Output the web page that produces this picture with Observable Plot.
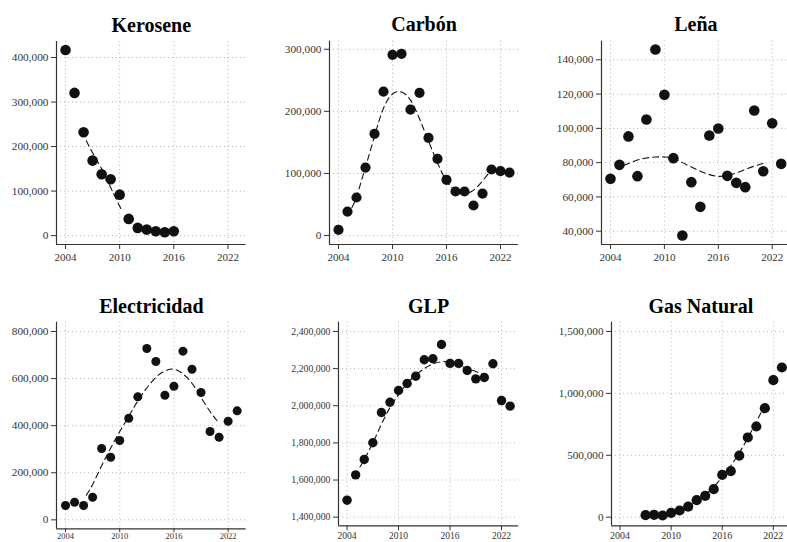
<!DOCTYPE html>
<html><head><meta charset="utf-8">
<script src="https://cdn.jsdelivr.net/npm/d3@7"></script>
<script src="https://cdn.jsdelivr.net/npm/@observablehq/plot@0.6"></script>
<style>
html,body{margin:0;padding:0;background:#fff;overflow:hidden;}
#chart{position:relative;width:787px;height:542px;overflow:hidden;background:#fff;}
#chart svg{position:absolute;}
#chart svg text{font-family:'Liberation Serif','Times New Roman',serif;}
</style></head><body><div id="chart"></div>
<script>
// ---------- data ----------
const xTicks = [2004, 2010, 2016, 2022];

const yearsKerosene = [2004,2005,2006,2007,2008,2009,2010,2011,2012,2013,2014,2015,2016];
const kerosene = [417000,320500,232000,168500,137800,126600,92000,37500,17300,13500,9700,7500,9700];
const keroseneFitYears = [2006.3,2007,2008,2009,2010.15];
const keroseneFit = [213000,186000,150000,108000,60000];
const keroseneTicks = [0,100000,200000,300000,400000];

const yearsAll = [2004,2005,2006,2007,2008,2009,2010,2011,2012,2013,2014,2015,2016,2017,2018,2019,2020,2021,2022,2023];

const carbon = [9200,38600,61200,109500,163800,231900,291000,292600,202900,229800,157300,123500,89700,70900,70900,48300,67600,106300,103600,101400];
const carbonFitYears = [2005.5,2006,2006.5,2007,2008,2009,2010,2011,2012,2013,2014,2015,2016,2017,2018,2019,2020,2021];
const carbonFit = [45000,62000,86000,110000,160000,205000,228000,231000,218000,188000,152000,117000,88000,72000,67000,73000,88000,106000];
const carbonTicks = [0,100000,200000,300000];

const lena = [70600,78700,95300,72100,105200,146000,119600,82600,37500,68600,54200,95800,99900,72300,68200,65700,110400,75000,103000,79300];
const lenaFitYears = [2005.5,2006,2007,2008,2009,2010,2011,2012,2013,2014,2015,2016,2017,2018,2019,2020,2021];
const lenaFit = [78500,79500,81500,82700,83300,83300,82500,80000,77500,75000,73000,72000,72500,74000,76000,78000,79500];
const lenaTicks = [40000,60000,80000,100000,120000,140000];

const electricidad = [60700,74800,60700,96000,302900,266000,337000,431600,522500,727700,672500,529300,567600,716400,639800,540800,375000,351000,418900,463000];
const electricidadFitYears = [2006.3,2007,2008,2009,2010,2011,2012,2013,2014,2015,2016,2017,2018,2019,2020,2020.8];
const electricidadFit = [105000,150000,230000,305000,375000,440000,505000,560000,605000,632000,640000,620000,580000,520000,460000,420000];
const electricidadTicks = [0,200000,400000,600000,800000];

const glp = [1491500,1628000,1711000,1800600,1964000,2019000,2082000,2120000,2159000,2248000,2253000,2330000,2228000,2228000,2190000,2145000,2152000,2226000,2028000,1998000];
const glpFitYears = [2005.5,2006,2007,2008,2009,2010,2011,2012,2013,2014,2015,2016,2017,2018,2019,2020];
const glpFit = [1670000,1710000,1800000,1900000,1990000,2060000,2120000,2165000,2200000,2225000,2237000,2235000,2220000,2200000,2185000,2165000];
const glpTicks = [1400000,1600000,1800000,2000000,2200000,2400000];

const yearsGas = [2007,2008,2009,2010,2011,2012,2013,2014,2015,2016,2017,2018,2019,2020,2021,2022,2023];
const gasNatural = [16000,19000,13700,35500,54000,86000,137000,172600,226000,342000,371600,498000,643800,732600,880500,1106600,1209000];
const gasFitYears = [2008,2009,2010,2011,2012,2013,2014,2015,2016,2017,2018,2019,2020,2020.6];
const gasFit = [15000,20000,35000,55000,85000,130000,180000,245000,325000,415000,520000,640000,770000,850000];
const gasTicks = [0,500000,1000000,1500000];

const titles = ["Kerosene","Carbón","Leña","Electricidad","GLP","Gas Natural"];

const panels = [
  {years: yearsKerosene, values: kerosene, fitYears: keroseneFitYears, fitValues: keroseneFit, yTicks: keroseneTicks},
  {years: yearsAll, values: carbon, fitYears: carbonFitYears, fitValues: carbonFit, yTicks: carbonTicks},
  {years: yearsAll, values: lena, fitYears: lenaFitYears, fitValues: lenaFit, yTicks: lenaTicks},
  {years: yearsAll, values: electricidad, fitYears: electricidadFitYears, fitValues: electricidadFit, yTicks: electricidadTicks},
  {years: yearsAll, values: glp, fitYears: glpFitYears, fitValues: glpFit, yTicks: glpTicks},
  {years: yearsGas, values: gasNatural, fitYears: gasFitYears, fitValues: gasFit, yTicks: gasTicks}
];

// ---------- layout (positions / sizes / styles) ----------
const layout = [
  {left:55.5, right:245,   top:41,    bottom:244,   rowTop:0,   yDomain:[-20000,436000],   r:5.3, yFont:11.3, xFont:11,  xTick:5, xPad:4,   titleDy:-10},
  {left:328.7,right:517.7, top:40.7,  bottom:244,   rowTop:0,   yDomain:[-14500,313000],   r:5.1, yFont:11.3, xFont:11,  xTick:5, xPad:4,   titleDy:-10},
  {left:601,  right:789.7, top:40.7,  bottom:244,   rowTop:0,   yDomain:[32240,150850],    r:5.3, yFont:11.3, xFont:11,  xTick:5, xPad:4,   titleDy:-10},
  {left:55.7, right:245.4, top:321.7, bottom:528.3, rowTop:271, yDomain:[-38000,839500],   r:4.5, yFont:11.3, xFont:8.5, xTick:4, xPad:0.5, titleDy:-9},
  {left:337.7,right:517.9, top:321.7, bottom:525.3, rowTop:271, yDomain:[1353700,2450000], r:4.7, yFont:9.8,  xFont:9.6, xTick:5, xPad:1.2, titleDy:-9},
  {left:610.8,right:789.7, top:321.7, bottom:525.3, rowTop:271, yDomain:[-69500,1575000],  r:5.1, yFont:11.2, xFont:10,  xTick:5, xPad:1,   titleDy:-9}
];

const chart = document.getElementById("chart");
const ML = 75, MB = 30;
const fmt = d3.format(",");
const font = "'Liberation Serif','Times New Roman',serif";

panels.forEach((p, i) => {
  const L = layout[i];
  const mt = L.top - L.rowTop;
  const width = ML + (L.right - L.left);
  const height = mt + (L.bottom - L.top) + MB;
  const pts = p.years.map((y, j) => ({year: y, value: p.values[j]}));
  const fit = p.fitYears.map((y, j) => ({year: y, value: p.fitValues[j]}));
  const svg = Plot.plot({
    width, height,
    marginLeft: ML, marginRight: 0, marginTop: mt, marginBottom: MB,
    x: {domain: [2003, 2024]},
    y: {domain: L.yDomain},
    style: {fontFamily: font, background: "transparent", color: "#333", overflow: "visible"},
    marks: [
      Plot.gridX(xTicks, {stroke: "#b5b5b5", strokeOpacity: 1, strokeDasharray: "1,3"}),
      Plot.gridY(p.yTicks, {stroke: "#b5b5b5", strokeOpacity: 1, strokeDasharray: "1,3"}),
      Plot.ruleX([2003], {stroke: "#333", strokeWidth: 1.2}),
      Plot.ruleY([L.yDomain[0]], {stroke: "#333", strokeWidth: 1.2}),
      Plot.axisX(xTicks, {tickSize: L.xTick, tickPadding: L.xPad, tickFormat: d => String(d), fontSize: L.xFont, fontFamily: font, label: null}),
      Plot.axisY(p.yTicks, {tickSize: 5, tickPadding: 3, tickFormat: fmt, fontSize: L.yFont, fontFamily: font, label: null}),
      Plot.line(fit, {x: "year", y: "value", stroke: "#111", strokeWidth: 1.1, strokeDasharray: "6,4", curve: "natural"}),
      Plot.dot(pts, {x: "year", y: "value", r: L.r, fill: "#111", stroke: "none"}),
      Plot.text([titles[i]], {frameAnchor: "top", dy: L.titleDy, lineAnchor: "bottom", fontSize: 20, fontWeight: "bold", fontFamily: font, fill: "#000"})
    ]
  });
  svg.style.left = (L.left - ML) + "px";
  svg.style.top = L.rowTop + "px";
  chart.append(svg);
});
</script>
</body></html>
